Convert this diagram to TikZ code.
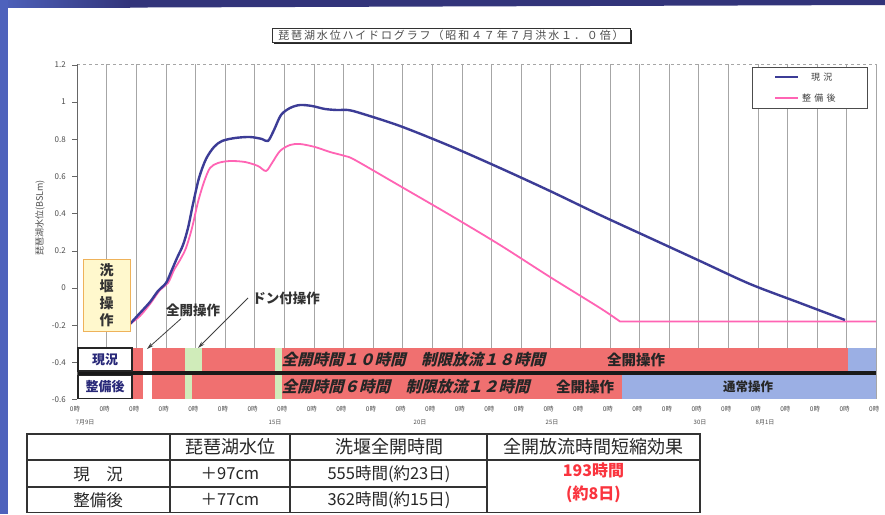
\documentclass[tikz,border=0pt]{standalone}
\usepackage{fontspec}
\setmainfont{Noto Sans CJK JP}
\newfontfamily\spacedfont[LetterSpace=17]{Noto Sans CJK JP}
\newfontfamily\legendfont[LetterSpace=35]{Noto Sans CJK JP}
\usetikzlibrary{arrows.meta,shadows}

\definecolor{framenavy}{RGB}{50,52,122}
\definecolor{frameblue}{RGB}{78,98,188}
\definecolor{curblue}{RGB}{60,60,150}
\definecolor{newpink}{RGB}{255,100,180}
\definecolor{bandred}{RGB}{240,112,112}
\definecolor{bandblue}{RGB}{155,175,228}
\definecolor{bandgreen}{RGB}{208,236,186}
\definecolor{labelnavy}{RGB}{40,40,120}
\definecolor{boxyellow}{RGB}{255,248,205}
\definecolor{boxorange}{RGB}{238,178,90}
\definecolor{tablered}{RGB}{250,52,62}

\begin{document}
\begin{tikzpicture}[x=1pt, y=-1pt]
    \tikzstyle{gridline} = [draw=black!35, line width=0.6pt];
    \tikzstyle{ticklabel} = [anchor=east, inner sep=0pt, font=\fontsize{8}{8}\selectfont, text=black!70];
    \tikzstyle{hourlabel} = [inner sep=0pt, font=\fontsize{6.5}{6.5}\selectfont, text=black!70];
    \tikzstyle{datelabel} = [inner sep=0pt, font=\fontsize{6}{6}\selectfont, text=black!70];
    \tikzstyle{bandlabel} = [draw=black!85, line width=1.2pt, fill=white, minimum width=54pt, minimum height=23pt, inner sep=0pt, font=\fontsize{13}{13}\selectfont\bfseries, text=labelnavy];
    \tikzstyle{bandtext} = [anchor=west, inner sep=0pt, transform shape, font=\fontsize{15.5}{15.5}\selectfont\bfseries, text=black!85];
    \tikzstyle{opertext} = [inner sep=0pt, font=\fontsize{14.5}{14.5}\selectfont\bfseries, text=black!85];
    \tikzstyle{annotext} = [inner sep=0pt, font=\fontsize{13.5}{13.5}\selectfont\bfseries, text=black!80];
    \tikzstyle{annoarrow} = [draw=black!75, line width=0.8pt, -{Stealth[length=7pt, width=4pt]}];
    \tikzstyle{tableline} = [draw=black!80, line width=1.2pt];
    \tikzstyle{head} = [inner sep=0pt, font=\fontsize{18}{18}\selectfont, text=black!85];
    \tikzstyle{cell} = [inner sep=0pt, font=\fontsize{16.5}{16.5}\selectfont, text=black!85];
    \tikzstyle{effect} = [inner sep=0pt, font=\fontsize{16}{16}\selectfont\bfseries, text=tablered];
    \useasboundingbox (0,0) rectangle (885,514);
    % frame:
    \fill[white] (0,0) rectangle (885,514);
    \fill[framenavy] (0,0) -- (885,0) -- (885,5) -- (0,8) -- cycle;
    \shade[left color=frameblue, right color=framenavy] (0,0) rectangle (130,7.5);
    \fill[frameblue] (0,0) rectangle (8,514);
    % title:
    \node[draw=black!80, fill=white, line width=0.8pt, minimum width=358pt, minimum height=14pt, inner sep=0pt,
      font=\spacedfont\fontsize{11}{11}\selectfont, text=black!70,
      drop shadow={shadow xshift=1.5pt, shadow yshift=-1.5pt, fill=black!85, opacity=1}]
      (title) at (451,35) {琵琶湖水位ハイドログラフ（昭和４７年７月洪水１．０倍）};
    % grid:
    \foreach \k in {0,...,27} \draw[gridline] ({77+29.6*\k},64) -- ({77+29.6*\k},399);
    \draw[gridline, dashed] (77,64) -- (876,64);
    \draw[black!60, line width=0.7pt] (77,64) -- (77,399);
    % axis:
    \foreach \v [count=\i] in {1.2,1,0.8,0.6,0.4,0.2,0,-0.2,-0.4,-0.6} {
      \draw[black!60, line width=0.6pt] (72,{288-186*\v}) -- (77,{288-186*\v});
      \node[ticklabel] (tick\i) at (66,{288-186*\v}) {\v};
    }
    \node[inner sep=0pt, rotate=90, font=\fontsize{9}{9}\selectfont, text=black!70] (ylabel) at (40,218) {琵琶湖水位(BSLm)};
    \foreach \k in {0,...,27} \node[hourlabel] (h\k) at ({75+29.6*\k},409) {0時};
    \node[datelabel] (d9) at (85,422) {7月9日};
    \node[datelabel] (d15) at (275,422) {15日};
    \node[datelabel] (d20) at (420,422) {20日};
    \node[datelabel] (d25) at (552,422) {25日};
    \node[datelabel] (d30) at (700,422) {30日};
    \node[datelabel] (d1) at (765,422) {8月1日};
    % legend:
    \node[draw=black!70, fill=white, line width=0.6pt, minimum width=115pt, minimum height=41pt] (legend) at (809.5,87.5) {};
    \coordinate (bl0) at (775,77); \coordinate (bl1) at (798,77);
    \coordinate (pl0) at (775,98); \coordinate (pl1) at (798,98);
    \draw[curblue, line width=2.4pt] (bl0) -- (bl1);
    \draw[newpink, line width=1.8pt] (pl0) -- (pl1);
    \node[anchor=west, inner sep=0pt, font=\legendfont\fontsize{9}{9}\selectfont, text=black!75] (lgnow) at (811,77) {現況};
    \node[anchor=west, inner sep=0pt, font=\legendfont\fontsize{9}{9}\selectfont, text=black!75] (lgafter) at (802,98) {整備後};
    % curves:
    \draw[newpink, line width=1.8pt, line join=round] plot[smooth, tension=0.5] coordinates {
      (130,324) (140,316) (150,304) (160,290) (168,283) (174,270) (180,260) (186,248) (192,228)
      (198,202) (204,182) (210,168) (218,163) (230,161) (245,162) (258,166) (266,171) (272,163)
      (280,151) (290,145) (300,144) (315,147) (330,152) (345,156) (355,160) (400,186) (450,215)
      (500,245) (550,277) (600,308) (620,321.5)} -- (876,321.5);
    \draw[curblue, line width=2.4pt, line join=round] plot[smooth, tension=0.5] coordinates {
      (130,324) (140,313) (150,302) (158,291) (166,283) (171,272) (177,258) (183,245) (188,228)
      (193,204) (199,178) (206,159) (214,147) (222,141) (235,138) (250,137) (262,139) (268,141)
      (274,130) (281,115) (290,108) (300,105) (312,106) (325,109) (337,110) (348,110) (360,113)
      (400,126) (450,146) (500,168) (550,191) (600,215) (650,238) (700,261) (750,284) (800,303) (845,320)};
    % bands:
    \fill[bandred] (132,348) rectangle (848,371);
    \fill[white] (143,348) rectangle (152,371);
    \fill[bandgreen] (185,348) rectangle (202,371);
    \fill[bandgreen] (275,348) rectangle (282,371);
    \fill[bandblue] (848,348) rectangle (876,371);
    \fill[bandred] (132,375) rectangle (622,399);
    \fill[white] (143,375) rectangle (152,399);
    \fill[bandgreen] (185,375) rectangle (192,399);
    \fill[bandgreen] (275,375) rectangle (282,399);
    \fill[bandblue] (622,375) rectangle (876,399);
    \draw[black!90, line width=3.5pt] (78,373) -- (876,373);
    \node[bandlabel] (now) at (105,359.5) {現況};
    \node[bandlabel] (after) at (105,387) {整備後};
    \begin{scope}[shift={(283,359.5)}, xslant=0.25]
      \node[bandtext] (nowtime) at (0,0) {全開時間１０時間　制限放流１８時間};
    \end{scope}
    \begin{scope}[shift={(283,387)}, xslant=0.25]
      \node[bandtext] (aftertime) at (0,0) {全開時間６時間　制限放流１２時間};
    \end{scope}
    \node[opertext] (nowopen) at (636,359.5) {全開操作};
    \node[opertext] (afteropen) at (585,387) {全開操作};
    \node[opertext, font=\fontsize{12.5}{12.5}\selectfont\bfseries] (afternormal) at (748,387) {通常操作};
    % notes:
    \node[draw=boxorange, fill=boxyellow, line width=1pt, minimum width=47pt, minimum height=72pt, inner sep=0pt,
      align=center, font=\fontsize{14}{16.7}\selectfont\bfseries, text=black!80] (sluice) at (106.5,295) {洗\\堰\\操\\作};
    \node[annotext] (fullopen) at (193,310) {全開操作};
    \node[annotext] (donfu) at (286,298) {ドン付操作};
    \coordinate (fullopentip) at (147,349);
    \coordinate (donfutip) at (198,348);
    \draw[annoarrow] ([xshift=-12pt, yshift=-2pt]fullopen.south) -- (fullopentip);
    \draw[annoarrow] ([xshift=-4pt]donfu.west) -- (donfutip);
    % table:
    \draw[tableline] (27,434) rectangle (700,512.5);
    \draw[tableline] (27,460) -- (700,460);
    \draw[tableline] (27,487) -- (487,487);
    \foreach \x in {170,290,487} \draw[tableline] (\x,434) -- (\x,512.5);
    \node[head] (hlevel) at (230,447) {琵琶湖水位};
    \node[head] (hhours) at (389,447) {洗堰全開時間};
    \node[head] (heffect) at (593.5,447) {全開放流時間短縮効果};
    \node[cell] (rnow) at (98,474) {現　況};
    \node[cell] (lnow) at (230,474) {＋97cm};
    \node[cell] (tnow) at (389,474) {555時間(約23日)};
    \node[cell] (rafter) at (98,500) {整備後};
    \node[cell] (lafter) at (230,500) {＋77cm};
    \node[cell] (tafter) at (389,500) {362時間(約15日)};
    \node[effect] (ehours) at (593.5,470) {193時間};
    \node[effect] (edays) at (593.5,494) {(約8日)};
\end{tikzpicture}
\end{document}
